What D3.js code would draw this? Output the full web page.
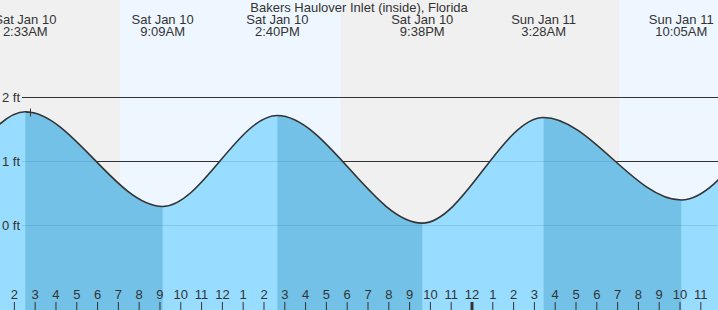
<!DOCTYPE html>
<html>
<head>
<meta charset="utf-8">
<script src="https://cdn.jsdelivr.net/npm/d3@7"></script>
<style>
  body { margin: 0; background: #f0f0f0; }
  svg { display: block; font-family: Arial, "Liberation Sans", sans-serif; }
</style>
</head>
<body>
<svg id="chart"></svg>
<script>
// tide extremes (the outer two on each side lie outside the visible window)
const extremeTimes = ["2026-01-09 14:10", "2026-01-09 20:45", "2026-01-10 02:33", "2026-01-10 09:09",
  "2026-01-10 14:40", "2026-01-10 21:38", "2026-01-11 03:28", "2026-01-11 10:05",
  "2026-01-11 16:20", "2026-01-11 22:30"];
const extremeHeights = [1.72, 0.10, 1.77, 0.29, 1.71, 0.03, 1.68, 0.39, 1.98, 0.05];

// labels printed along the top for the visible extremes
const labelDays = ["Sat Jan 10", "Sat Jan 10", "Sat Jan 10", "Sat Jan 10", "Sun Jan 11", "Sun Jan 11"];
const labelTimes = ["2:33AM", "9:09AM", "2:40PM", "9:38PM", "3:28AM", "10:05AM"];

// daylight
const sunrise = ["2026-01-10 07:06", "2026-01-11 07:06"];
const sunset = ["2026-01-10 17:43", "2026-01-11 17:44"];

const yTicks = [0, 1, 2];
const markerTime = "2026-01-10 02:46";
const title = "Bakers Haulover Inlet (inside), Florida";

const width = 718, height = 310;
const parse = d3.timeParse("%Y-%m-%d %H:%M");

const tides = extremeTimes.map((t, i) => ({ date: parse(t), h: extremeHeights[i] }));
const shown = tides.slice(2, 8);

const x = d3.scaleTime()
  .domain([parse("2026-01-10 01:20"), parse("2026-01-11 11:51")])
  .range([0, width]);
const y = d3.scaleLinear().domain([0, 2]).range([225, 97]);

const svg = d3.select("#chart").attr("width", width).attr("height", height);

// night background then day bands
svg.append("rect").attr("width", width).attr("height", height).attr("fill", "#f0f0f0");
svg.selectAll("rect.day")
  .data(sunrise.map((s, i) => [parse(s), parse(sunset[i])]))
  .enter().append("rect")
  .attr("class", "day")
  .attr("x", d => x(d[0]))
  .attr("width", d => x(d[1]) - x(d[0]))
  .attr("y", 0)
  .attr("height", height)
  .attr("fill", "#eef7ff");

// grid lines
const grid = svg.append("g");
grid.selectAll("line")
  .data(yTicks)
  .enter().append("line")
  .attr("x1", 22).attr("x2", width)
  .attr("y1", d => Math.round(y(d)) + 0.5)
  .attr("y2", d => Math.round(y(d)) + 0.5)
  .attr("stroke", "#333")
  .attr("stroke-width", 1);

// water
const curve = d3.curveMonotoneX;
const area = d3.area().x(d => x(d.date)).y0(height).y1(d => y(d.h)).curve(curve);
const line = d3.line().x(d => x(d.date)).y(d => y(d.h)).curve(curve);

svg.append("clipPath").attr("id", "water")
  .append("path").attr("d", area(tides));

const water = svg.append("g").attr("clip-path", "url(#water)");
water.append("rect").attr("width", width).attr("height", height).attr("fill", "#98dcff");

// falling tide bands, high -> low
const ebbs = [];
for (let i = 0; i < tides.length - 1; i++) {
  if (tides[i].h > tides[i + 1].h) ebbs.push([tides[i].date, tides[i + 1].date]);
}
water.selectAll("rect.ebb")
  .data(ebbs)
  .enter().append("rect")
  .attr("class", "ebb")
  .attr("x", d => x(d[0]))
  .attr("width", d => x(d[1]) - x(d[0]))
  .attr("y", 0)
  .attr("height", height)
  .attr("fill", "#73c1e6");

water.selectAll("line")
  .data(yTicks)
  .enter().append("line")
  .attr("x1", 22).attr("x2", width)
  .attr("y1", d => Math.round(y(d)) + 0.5)
  .attr("y2", d => Math.round(y(d)) + 0.5)
  .attr("stroke", "rgba(0,60,110,0.13)");

svg.append("path")
  .attr("d", line(tides))
  .attr("fill", "none")
  .attr("stroke", "#333")
  .attr("stroke-width", 1.6);

// y labels
svg.append("g").selectAll("text")
  .data(yTicks)
  .enter().append("text")
  .attr("x", 20)
  .attr("y", d => y(d) + 5)
  .attr("text-anchor", "end")
  .attr("font-size", 13)
  .attr("fill", "#333")
  .text(d => d + " ft");

// marker
const mDate = parse(markerTime);
const mIdx = d3.bisector(d => d.date).right(tides, mDate);
const mx = Math.round(x(mDate)) + 0.5;
const my = Math.round(y(tides[mIdx - 1].h)) + 0.5;
svg.append("path")
  .attr("d", `M${mx - 4},${my}H${mx + 4}M${mx},${my - 4}V${my + 4}`)
  .attr("stroke", "#333")
  .attr("stroke-width", 1);

// top labels
svg.append("text")
  .attr("x", width / 2).attr("y", 12)
  .attr("text-anchor", "middle")
  .attr("font-size", 13)
  .attr("fill", "#333")
  .text(title);

const tops = svg.append("g").selectAll("text")
  .data(shown)
  .enter().append("text")
  .attr("text-anchor", "middle")
  .attr("font-size", 13)
  .attr("fill", "#333");
tops.append("tspan").attr("x", d => x(d.date)).attr("y", 24).text((d, i) => labelDays[i]);
tops.append("tspan").attr("x", d => x(d.date)).attr("y", 36).text((d, i) => labelTimes[i]);

// hour axis
const xAxis = d3.axisBottom(x)
  .ticks(d3.timeHour.every(1))
  .tickFormat(d3.timeFormat("%-I"))
  .tickSize(8)
  .tickPadding(0);

const ax = svg.append("g")
  .attr("transform", `translate(0,${height})`)
  .call(xAxis);
ax.select(".domain").remove();
ax.selectAll(".tick line")
  .attr("y2", -8)
  .attr("stroke", "#333")
  .attr("stroke-width", d => d.getHours() === 0 ? 3 : 1);
ax.selectAll(".tick text")
  .attr("y", -11)
  .attr("dy", 0)
  .attr("font-size", 13)
  .attr("font-family", "Arial, 'Liberation Sans', sans-serif")
  .attr("fill", "#333");
</script>
</body>
</html>
